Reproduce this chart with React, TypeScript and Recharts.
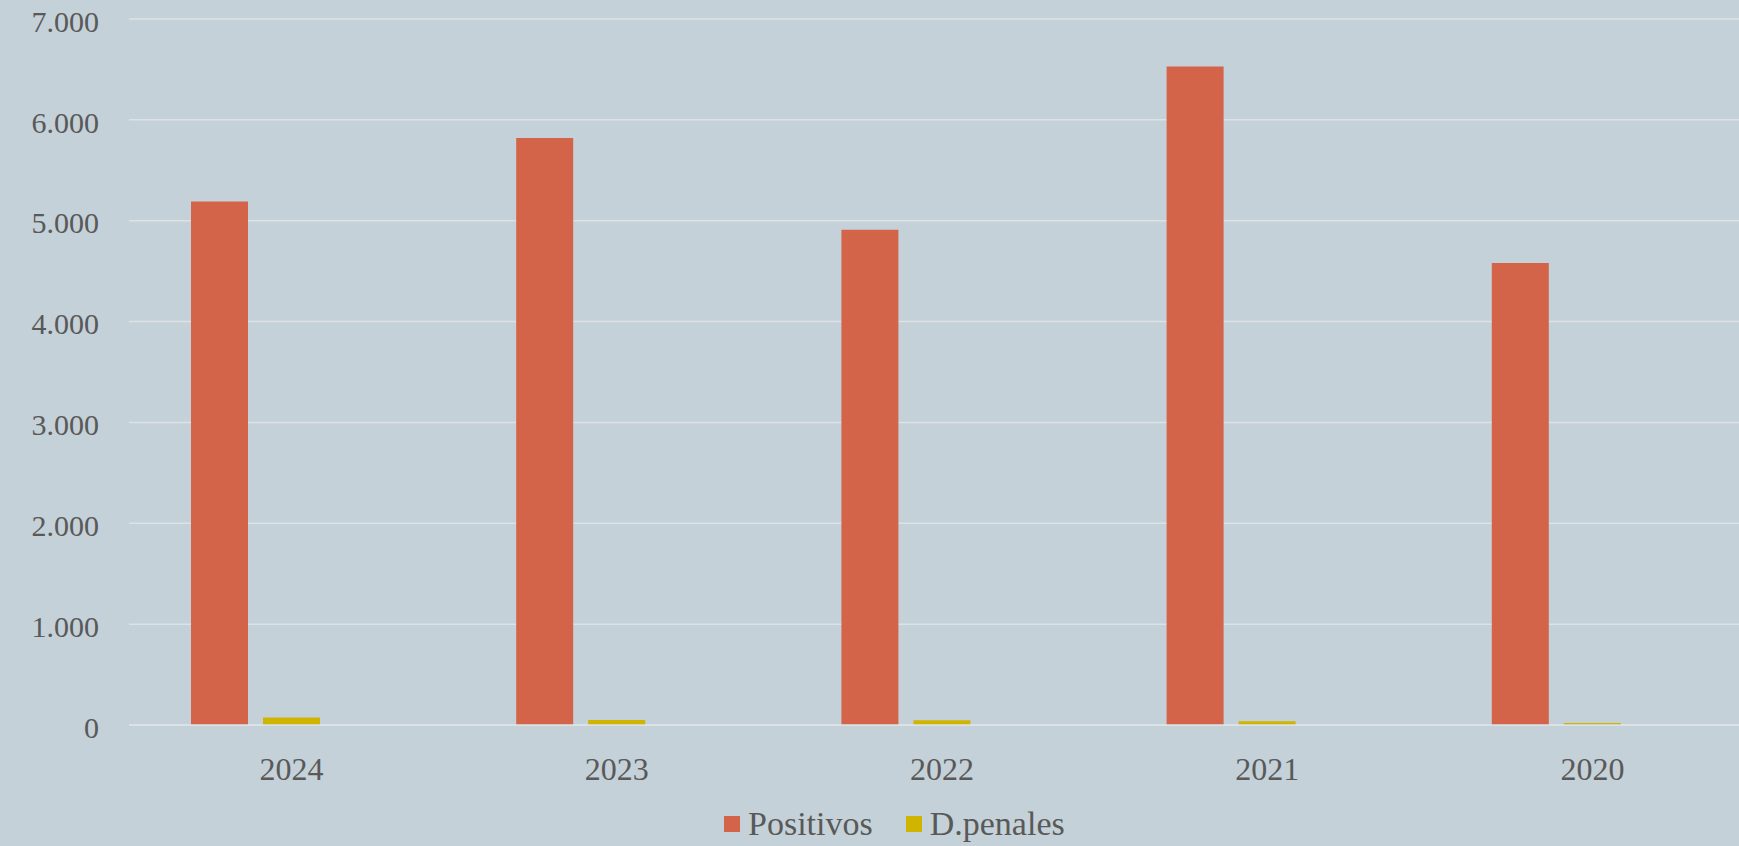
import React from 'react';
import { BarChart, Bar, XAxis, YAxis, CartesianGrid, Legend } from 'recharts';

const years = ['2024', '2023', '2022', '2021', '2020'];
const positivos = [5190, 5820, 4910, 6530, 4580];
const penales = [75, 50, 48, 38, 20];
// third series of the source chart, empty (keeps the pairs off-centre)
const otros = [0, 0, 0, 0, 0];
const yTicks = [0, 1000, 2000, 3000, 4000, 5000, 6000, 7000];
const seriesOrder = ['Positivos', 'D.penales'];

const COLORS = { positivos: '#d3644a', penales: '#cfb500' };
const TEXT = '#595959';
const FONT = '"Liberation Serif", "DejaVu Serif", serif';

const data = years.map((year, i) => ({
  year,
  Positivos: positivos[i],
  'D.penales': penales[i],
  Otros: otros[i],
}));

const fmt = (v: number) => String(v).replace(/\B(?=(\d{3})+(?!\d))/g, '.');

const LegendContent = (props: any) => {
  const items = (props.payload || [])
    .filter((p: any) => p.type !== 'none')
    .sort((a: any, b: any) => seriesOrder.indexOf(a.value) - seriesOrder.indexOf(b.value));
  return (
    <div style={{ display: 'flex', alignItems: 'center', height: 36, gap: 33, fontFamily: FONT, fontSize: 34, lineHeight: '36px', color: TEXT }}>
      {items.map((p: any) => (
        <div key={p.value} style={{ display: 'flex', alignItems: 'center', gap: 8 }}>
          <span style={{ width: 16, height: 16, background: p.color, display: 'inline-block' }}></span>
          <span>{p.value}</span>
        </div>
      ))}
    </div>
  );
};

const App: React.FC = () => {
  return (
    <div style={{ position: 'absolute', left: 0, top: 0, width: 1739, height: 846, overflow: 'hidden', background: '#c5d1d8' }}>
      <BarChart
        width={1760}
        height={846}
        data={data}
        margin={{ top: 19, right: 5, bottom: 4, left: 0 }}
        barSize={57}
        barGap={15}
      >
        <CartesianGrid vertical={false} stroke="#dde2e4" strokeWidth={1.5} />
        <XAxis
          dataKey="year"
          height={81}
          axisLine={{ stroke: '#dde2e4', strokeWidth: 1.5 }}
          tickLine={false}
          tickSize={0}
          tickMargin={32}
          tick={{ fill: TEXT, fontFamily: FONT, fontSize: 32 }}
        />
        <YAxis
          width={129}
          domain={[0, 7000]}
          ticks={yTicks}
          interval={0}
          axisLine={false}
          tickLine={false}
          tickSize={0}
          tickMargin={30}
          tickFormatter={fmt}
          tick={{ fill: TEXT, fontFamily: FONT, fontSize: 30, dy: 2 }}
        />
        <Legend
          verticalAlign="bottom"
          content={<LegendContent />}
          wrapperStyle={{ left: 724, bottom: 4, width: 420 }}
        />
        <Bar dataKey="Positivos" fill={COLORS.positivos} isAnimationActive={false} />
        <Bar dataKey="D.penales" fill={COLORS.penales} isAnimationActive={false} />
        <Bar dataKey="Otros" fill="#a5a5a5" legendType="none" isAnimationActive={false} />
      </BarChart>
    </div>
  );
};

export default App;
